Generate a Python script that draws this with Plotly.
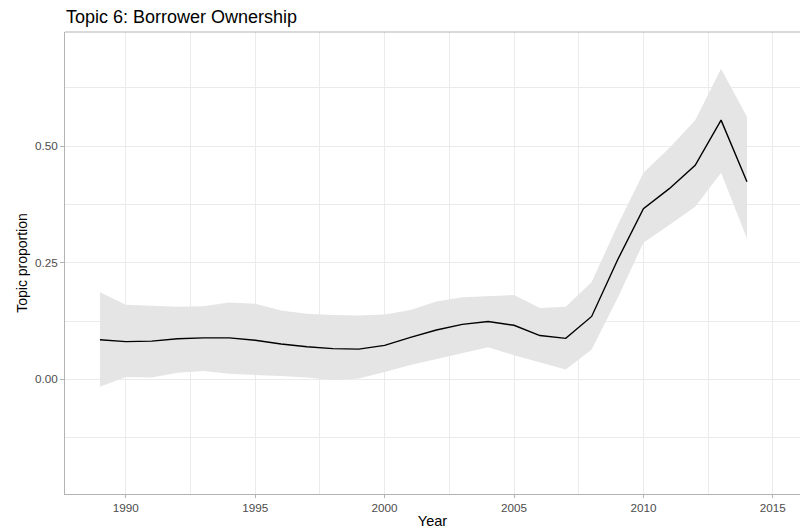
import plotly.graph_objects as go

# Estimated topic proportion by year, with lower/upper bounds of the interval
years = list(range(1989, 2015))
proportion = [0.085, 0.081, 0.082, 0.087, 0.089, 0.089, 0.084, 0.076, 0.070, 0.066,
              0.065, 0.073, 0.090, 0.106, 0.118, 0.124, 0.116, 0.094, 0.088, 0.135,
              0.256, 0.366, 0.409, 0.459, 0.556, 0.424]
upper = [0.187, 0.160, 0.158, 0.156, 0.157, 0.165, 0.162, 0.148, 0.141, 0.138,
         0.137, 0.139, 0.149, 0.167, 0.176, 0.179, 0.181, 0.153, 0.156, 0.209,
         0.330, 0.443, 0.496, 0.556, 0.666, 0.563]
lower = [-0.016, 0.005, 0.004, 0.014, 0.018, 0.012, 0.009, 0.007, 0.004, -0.002,
         0.002, 0.016, 0.031, 0.043, 0.056, 0.069, 0.052, 0.036, 0.021, 0.064,
         0.174, 0.293, 0.331, 0.370, 0.443, 0.302]

x_ticks = [1990, 1995, 2000, 2005, 2010, 2015]
y_ticks = [0.0, 0.25, 0.5]
y_tick_labels = ["0.00", "0.25", "0.50"]

FONT = "Liberation Sans, Arial, Helvetica, sans-serif"
GRID = "#ebebeb"
AXIS = "#b3b3b3"

fig = go.Figure()

# Interval ribbon
fig.add_trace(go.Scatter(
    x=years + years[::-1],
    y=upper + lower[::-1],
    fill="toself",
    fillcolor="#e5e5e5",
    line=dict(width=0),
    mode="lines",
    hoverinfo="skip",
    showlegend=False,
))

# Point estimate
fig.add_trace(go.Scatter(
    x=years,
    y=proportion,
    mode="lines",
    line=dict(color="black", width=1.4),
    showlegend=False,
))

fig.update_layout(
    width=800,
    height=531,
    margin=dict(l=65, r=0, t=31.5, b=37),
    paper_bgcolor="white",
    plot_bgcolor="white",
    font=dict(family=FONT, color="black"),
    title=dict(
        text="Topic 6: Borrower Ownership",
        x=66 / 800, xanchor="left",
        y=1 - 17 / 531, yanchor="middle",
        font=dict(size=18, color="black", family=FONT),
    ),
    shapes=[dict(
        type="line", xref="paper", yref="paper",
        x0=0, x1=1, y0=1, y1=1,
        line=dict(color=AXIS, width=1),
    )],
)

fig.update_xaxes(
    range=[1987.65, 2016.05],
    tickmode="array",
    tickvals=x_ticks,
    ticktext=[str(v) for v in x_ticks],
    showgrid=True, gridcolor=GRID, gridwidth=1,
    minor=dict(tickmode="array",
               tickvals=[1987.5, 1992.5, 1997.5, 2002.5, 2007.5, 2012.5],
               showgrid=True, gridcolor=GRID, gridwidth=1),
    showline=True, linecolor=AXIS, linewidth=1,
    ticks="outside", ticklen=3, tickcolor=AXIS,
    tickfont=dict(size=11.7, color="#4d4d4d", family=FONT),
    title=dict(text="Year", font=dict(size=14.5, color="black", family=FONT), standoff=2),
    zeroline=False,
)

fig.update_yaxes(
    range=[-0.2458, 0.745],
    tickmode="array",
    tickvals=y_ticks,
    ticktext=y_tick_labels,
    showgrid=True, gridcolor=GRID, gridwidth=1,
    minor=dict(tickmode="array",
               tickvals=[-0.125, 0.125, 0.375, 0.625],
               showgrid=True, gridcolor=GRID, gridwidth=1),
    showline=True, linecolor=AXIS, linewidth=1,
    ticks="outside", ticklen=4, tickcolor=AXIS,
    tickfont=dict(size=11.7, color="#4d4d4d", family=FONT),
    title=dict(text="Topic proportion", font=dict(size=14, color="black", family=FONT), standoff=4),
    zeroline=False,
)

fig.write_html("out.html")
